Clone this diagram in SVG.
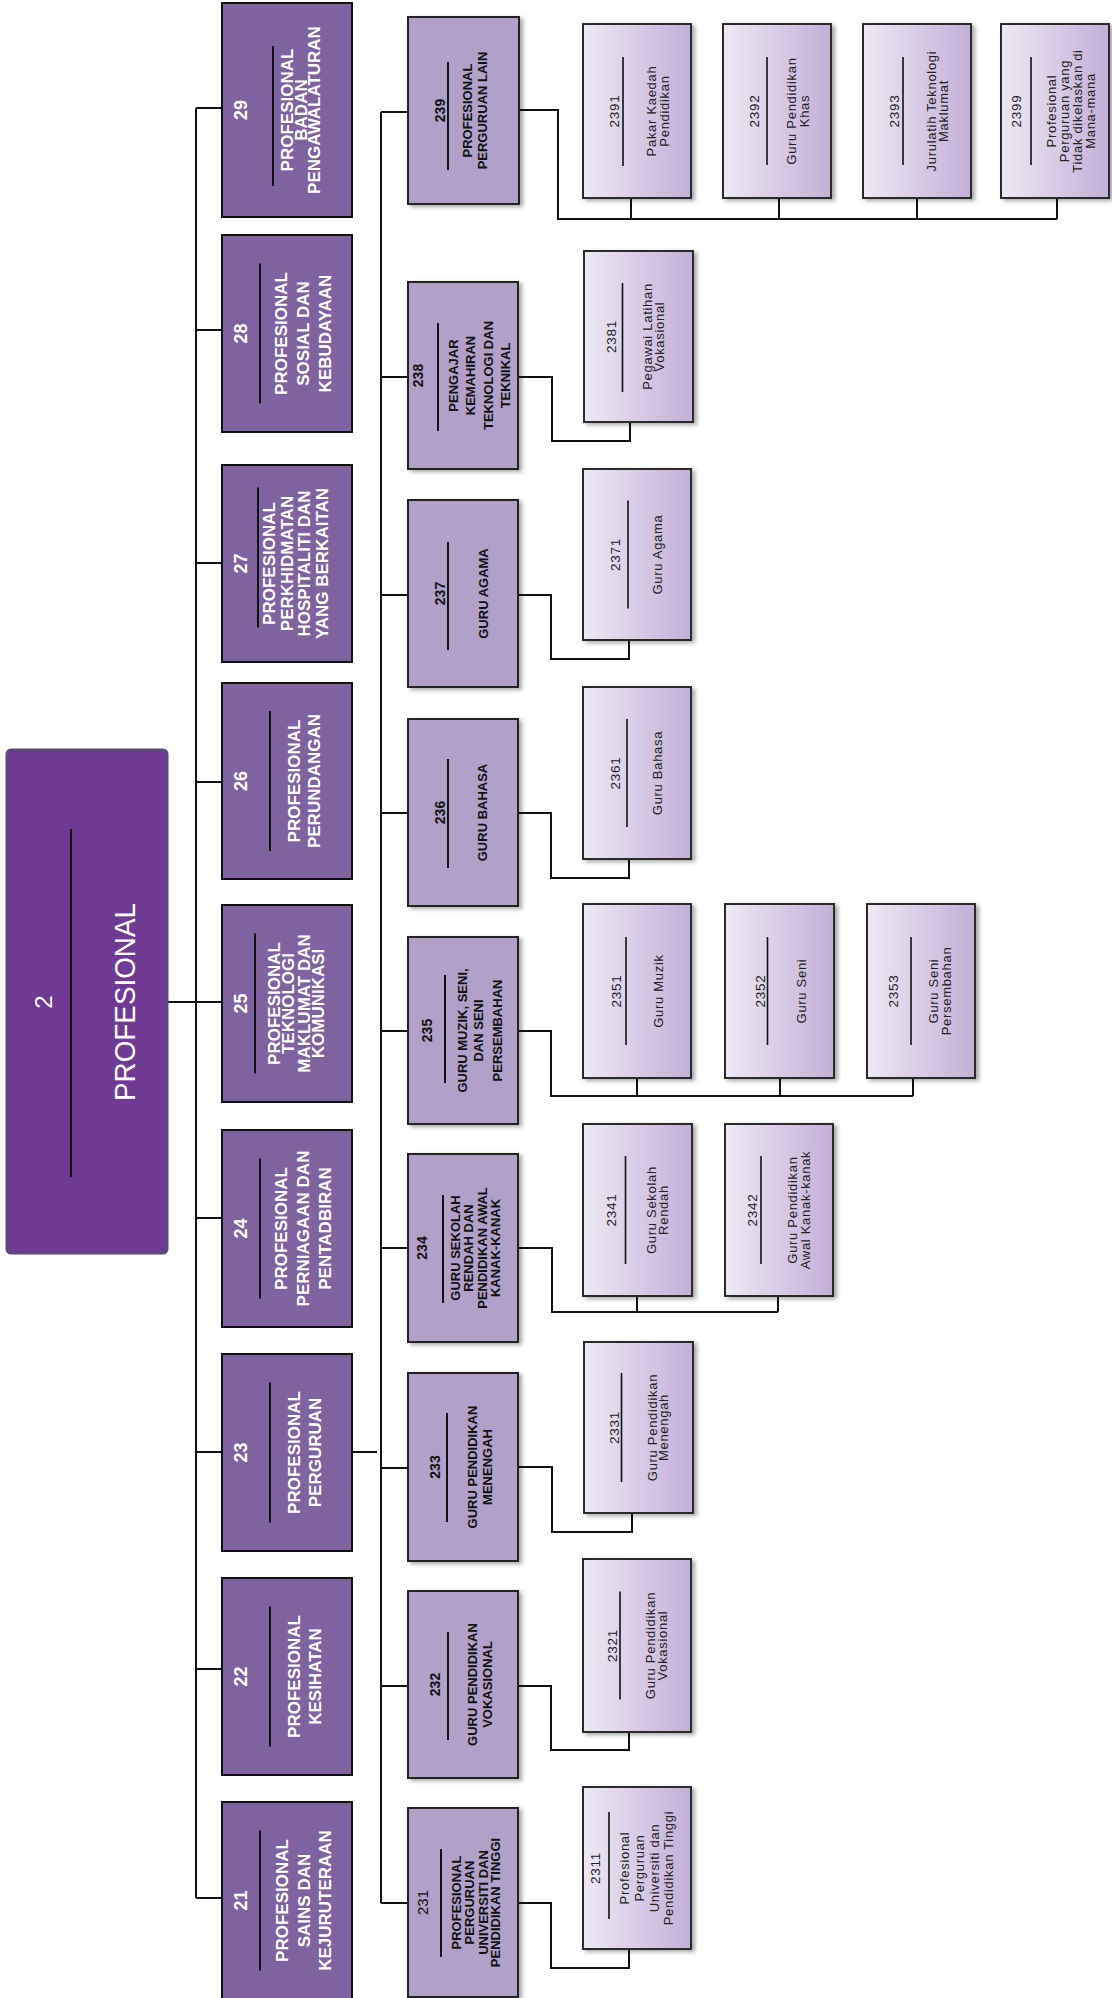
<svg xmlns="http://www.w3.org/2000/svg" width="1112" height="1998" viewBox="0 0 1112 1998">
<style>
text{font-family:"Liberation Sans",Arial,sans-serif;text-anchor:middle}
.main rect{fill:#6f3a93;stroke:#5b4a7d;stroke-width:3}
.main text{fill:#fff}
.l1 rect{fill:#7f63a1;stroke:#111;stroke-width:2}
.l1 text{fill:#fff;font-weight:bold;font-size:17px}
.l1 .num{font-size:18px}
.l2 rect{fill:#b1a0c7;stroke:#222;stroke-width:2;filter:url(#sh)}
.l2 text{fill:#111;font-weight:bold;font-size:13px}
.l2 .num{font-size:14px}
.l2 .num.reg{font-weight:normal;font-size:15px}
.l3 rect{fill:url(#g3);stroke:#2a2a2a;stroke-width:2;filter:url(#sh)}
.l3 text{fill:#222;font-size:13px;letter-spacing:0.7px}
.l3 .num{font-size:13.5px}
.sep{stroke:#111;stroke-width:2}
.l3 .sep{stroke-width:1.6}
#connectors path{fill:none;stroke:#111;stroke-width:2}
</style>
<defs>
<linearGradient id="g3" x1="0" y1="0" x2="1" y2="0">
<stop offset="0" stop-color="#eee9f4"/>
<stop offset="1" stop-color="#c3afd6"/>
</linearGradient>
<filter id="sh" x="-10%" y="-10%" width="130%" height="130%">
<feDropShadow dx="3" dy="2" stdDeviation="2" flood-color="#000" flood-opacity="0.35"/>
</filter>
</defs>
<rect width="1112" height="1998" fill="#fff"/>

<g id="connectors">
<path d="M167,1002 H196"/>
<path d="M196,108 V1898"/>
<path d="M196,108 H222 M196,330 H222 M196,563 H222 M196,782 H222 M196,1002 H222 M196,1218 H222 M196,1452 H222 M196,1669 H222 M196,1898 H222"/>
<path d="M352,1452 H377"/>
<path d="M381,112 V1903"/>
<path d="M381,112 H408 M381,377 H408 M381,595 H408 M381,813 H408 M381,1031 H408 M381,1248 H408 M381,1468 H408 M381,1686 H408 M381,1903 H408"/>
<path d="M519,110 H558 V219 H1057 M631,198 V219 M779,198 V219 M917,198 V219 M1057,198 V219"/>
<path d="M518,377 H552 V441 H630 V422"/>
<path d="M518,595 H551 V659 H629 V640"/>
<path d="M518,813 H551 V878 H629 V859"/>
<path d="M518,1031 H551 V1096 H913 M637,1078 V1096 M780,1078 V1096 M913,1078 V1096"/>
<path d="M518,1248 H552 V1312 H778 M637,1296 V1312 M778,1296 V1312"/>
<path d="M518,1467 H552 V1532 H632 V1513"/>
<path d="M518,1686 H551 V1750 H629 V1732"/>
<path d="M518,1903 H551 V1968 H629 V1949"/>
</g>

<g id="n2" class="main">
<rect x="7" y="750" width="160" height="503" rx="4"/>
<g transform="translate(87,1002) rotate(-90)">
<text y="-35" font-size="24">2</text>
<line class="sep" x1="-175" y1="-16" x2="173" y2="-16"/>
<text y="48" font-size="30" textLength="198" lengthAdjust="spacingAndGlyphs">PROFESIONAL</text>
</g>
</g>

<g id="n29" class="l1">
<rect x="222" y="3" width="130" height="214"/>
<g transform="translate(287,110) rotate(-90)">
<text class="num" y="-40">29</text>
<line class="sep" x1="-76" y1="-14" x2="64" y2="-14"/>
<text><tspan x="0" y="6">PROFESIONAL</tspan><tspan x="0" y="20">BADAN</tspan><tspan x="0" y="33">PENGAWALATURAN</tspan></text>
</g>
</g>

<g id="n28" class="l1">
<rect x="222" y="235" width="130" height="197"/>
<g transform="translate(287,333.5) rotate(-90)">
<text class="num" y="-40">28</text>
<line class="sep" x1="-70" y1="-27" x2="70" y2="-27"/>
<text><tspan x="0" y="0">PROFESIONAL</tspan><tspan x="0" y="22">SOSIAL DAN</tspan><tspan x="0" y="44">KEBUDAYAAN</tspan></text>
</g>
</g>

<g id="n27" class="l1">
<rect x="222" y="465" width="130" height="197"/>
<g transform="translate(287,563.5) rotate(-90)">
<text class="num" y="-40">27</text>
<line class="sep" x1="-64" y1="-29" x2="76" y2="-29"/>
<text><tspan x="0" y="-12">PROFESIONAL</tspan><tspan x="0" y="5.5">PERKHIDMATAN</tspan><tspan x="0" y="23">HOSPITALITI DAN</tspan><tspan x="0" y="40.5">YANG BERKAITAN</tspan></text>
</g>
</g>

<g id="n26" class="l1">
<rect x="222" y="683" width="130" height="196"/>
<g transform="translate(287,781) rotate(-90)">
<text class="num" y="-40">26</text>
<line class="sep" x1="-70" y1="-17" x2="70" y2="-17"/>
<text><tspan x="0" y="13">PROFESIONAL</tspan><tspan x="0" y="33">PERUNDANGAN</tspan></text>
</g>
</g>

<g id="n25" class="l1">
<rect x="222" y="905" width="130" height="197"/>
<g transform="translate(287,1003.5) rotate(-90)">
<text class="num" y="-40">25</text>
<line class="sep" x1="-70" y1="-32" x2="70" y2="-32"/>
<text><tspan x="0" y="-7">PROFESIONAL</tspan><tspan x="0" y="7">TEKNOLOGI</tspan><tspan x="0" y="23">MAKLUMAT DAN</tspan><tspan x="0" y="37">KOMUNIKASI</tspan></text>
</g>
</g>

<g id="n24" class="l1">
<rect x="222" y="1130" width="130" height="197"/>
<g transform="translate(287,1228.5) rotate(-90)">
<text class="num" y="-40">24</text>
<line class="sep" x1="-70" y1="-27" x2="70" y2="-27"/>
<text><tspan x="0" y="0">PROFESIONAL</tspan><tspan x="0" y="22">PERNIAGAAN DAN</tspan><tspan x="0" y="44">PENTADBIRAN</tspan></text>
</g>
</g>

<g id="n23" class="l1">
<rect x="222" y="1354" width="130" height="197"/>
<g transform="translate(287,1452.5) rotate(-90)">
<text class="num" y="-40">23</text>
<line class="sep" x1="-70" y1="-17" x2="70" y2="-17"/>
<text><tspan x="0" y="13">PROFESIONAL</tspan><tspan x="0" y="34">PERGURUAN</tspan></text>
</g>
</g>

<g id="n22" class="l1">
<rect x="222" y="1578" width="130" height="197"/>
<g transform="translate(287,1676.5) rotate(-90)">
<text class="num" y="-40">22</text>
<line class="sep" x1="-70" y1="-17" x2="70" y2="-17"/>
<text><tspan x="0" y="13">PROFESIONAL</tspan><tspan x="0" y="34">KESIHATAN</tspan></text>
</g>
</g>

<g id="n21" class="l1">
<rect x="222" y="1802" width="130" height="197"/>
<g transform="translate(287,1900.5) rotate(-90)">
<text class="num" y="-40">21</text>
<line class="sep" x1="-70" y1="-27" x2="70" y2="-27"/>
<text><tspan x="0" y="1">PROFESIONAL</tspan><tspan x="0" y="23">SAINS DAN</tspan><tspan x="0" y="44">KEJURUTERAAN</tspan></text>
</g>
</g>

<g id="n239" class="l2">
<rect x="408" y="17" width="111" height="187"/>
<g transform="translate(463,110.5) rotate(-90)">
<text class="num" y="-18">239</text>
<line class="sep" x1="-59.5" y1="-15" x2="48.5" y2="-15"/>
<text><tspan x="0" y="9">PROFESIONAL</tspan><tspan x="0" y="24">PERGURUAN LAIN</tspan></text>
</g>
</g>

<g id="n238" class="l2">
<rect x="408" y="282" width="110" height="187"/>
<g transform="translate(463,375.5) rotate(-90)">
<text class="num" y="-40">238</text>
<line class="sep" x1="-55.5" y1="-25" x2="52.5" y2="-25"/>
<text><tspan x="0" y="-5">PENGAJAR</tspan><tspan x="0" y="12">KEMAHIRAN</tspan><tspan x="0" y="30">TEKNOLOGI DAN</tspan><tspan x="0" y="47">TEKNIKAL</tspan></text>
</g>
</g>

<g id="n237" class="l2">
<rect x="408" y="500" width="110" height="187"/>
<g transform="translate(463,593.5) rotate(-90)">
<text class="num" y="-18">237</text>
<line class="sep" x1="-56.5" y1="-15" x2="51.5" y2="-15"/>
<text x="0" y="25">GURU AGAMA</text>
</g>
</g>

<g id="n236" class="l2">
<rect x="408" y="719" width="110" height="187"/>
<g transform="translate(463,812.5) rotate(-90)">
<text class="num" y="-18">236</text>
<line class="sep" x1="-55.5" y1="-15" x2="53.5" y2="-15"/>
<text x="0" y="24">GURU BAHASA</text>
</g>
</g>

<g id="n235" class="l2">
<rect x="408" y="937" width="110" height="187"/>
<g transform="translate(463,1030.5) rotate(-90)">
<text class="num" y="-31">235</text>
<line class="sep" x1="-52.5" y1="-18" x2="55.5" y2="-18"/>
<text><tspan x="0" y="4">GURU MUZIK, SENI,</tspan><tspan x="0" y="20">DAN SENI</tspan><tspan x="0" y="39">PERSEMBAHAN</tspan></text>
</g>
</g>

<g id="n234" class="l2">
<rect x="408" y="1154" width="110" height="188"/>
<g transform="translate(463,1248) rotate(-90)">
<text class="num" y="-36">234</text>
<line class="sep" x1="-55" y1="-20" x2="53" y2="-20"/>
<text><tspan x="0" y="-3">GURU SEKOLAH</tspan><tspan x="0" y="10">RENDAH DAN</tspan><tspan x="0" y="24">PENDIDIKAN AWAL</tspan><tspan x="0" y="37">KANAK-KANAK</tspan></text>
</g>
</g>

<g id="n233" class="l2">
<rect x="408" y="1373" width="110" height="188"/>
<g transform="translate(463,1467) rotate(-90)">
<text class="num" y="-23">233</text>
<line class="sep" x1="-55" y1="-16" x2="54" y2="-16"/>
<text><tspan x="0" y="14">GURU PENDIDIKAN</tspan><tspan x="0" y="29">MENENGAH</tspan></text>
</g>
</g>

<g id="n232" class="l2">
<rect x="408" y="1591" width="110" height="187"/>
<g transform="translate(463,1684.5) rotate(-90)">
<text class="num" y="-23">232</text>
<line class="sep" x1="-55.5" y1="-15" x2="52.5" y2="-15"/>
<text><tspan x="0" y="14">GURU PENDIDIKAN</tspan><tspan x="0" y="29">VOKASIONAL</tspan></text>
</g>
</g>

<g id="n231" class="l2">
<rect x="408" y="1808" width="110" height="189"/>
<g transform="translate(463,1902.5) rotate(-90)">
<text class="num reg" y="-35">231</text>
<line class="sep" x1="-54.5" y1="-22" x2="53.5" y2="-22"/>
<text><tspan x="0" y="-2">PROFESIONAL</tspan><tspan x="0" y="11">PERGURUAN</tspan><tspan x="0" y="25">UNIVERSITI DAN</tspan><tspan x="0" y="37">PENDIDIKAN TINGGI</tspan></text>
</g>
</g>

<g id="n2391" class="l3">
<rect x="583" y="24" width="108" height="174"/>
<g transform="translate(637,111) rotate(-90)">
<text class="num" y="-18">2391</text>
<line class="sep" x1="-55" y1="-14" x2="54" y2="-14"/>
<text><tspan x="0" y="19">Pakar Kaedah</tspan><tspan x="0" y="32">Pendidikan</tspan></text>
</g>
</g>

<g id="n2392" class="l3">
<rect x="723" y="24" width="108" height="174"/>
<g transform="translate(777,111) rotate(-90)">
<text class="num" y="-18">2392</text>
<line class="sep" x1="-54" y1="-10" x2="54" y2="-10"/>
<text><tspan x="0" y="19">Guru Pendidikan</tspan><tspan x="0" y="32">Khas</tspan></text>
</g>
</g>

<g id="n2393" class="l3">
<rect x="863" y="24" width="108" height="174"/>
<g transform="translate(917,111) rotate(-90)">
<text class="num" y="-18">2393</text>
<line class="sep" x1="-54" y1="-14" x2="54" y2="-14"/>
<text><tspan x="0" y="19">Jurulatih Teknologi</tspan><tspan x="0" y="31">Maklumat</tspan></text>
</g>
</g>

<g id="n2399" class="l3">
<rect x="1001" y="24" width="108" height="174"/>
<g transform="translate(1055,111) rotate(-90)">
<text class="num" y="-34">2399</text>
<line class="sep" x1="-54" y1="-24" x2="54" y2="-24"/>
<text><tspan x="0" y="1">Profesional</tspan><tspan x="0" y="14">Perguruan yang</tspan><tspan x="0" y="27">Tidak dikelaskan di</tspan><tspan x="0" y="40">Mana-mana</tspan></text>
</g>
</g>

<g id="n2381" class="l3">
<rect x="584" y="251" width="109" height="171"/>
<g transform="translate(638.5,336.5) rotate(-90)">
<text class="num" y="-23">2381</text>
<line class="sep" x1="-55.5" y1="-16" x2="53.5" y2="-16"/>
<text><tspan x="0" y="13.5">Pegawai Latihan</tspan><tspan x="0" y="25.5">Vokasional</tspan></text>
</g>
</g>

<g id="n2371" class="l3">
<rect x="583" y="469" width="108" height="171"/>
<g transform="translate(637,554.5) rotate(-90)">
<text class="num" y="-17">2371</text>
<line class="sep" x1="-54" y1="-9" x2="54" y2="-9"/>
<text x="0" y="25">Guru Agama</text>
</g>
</g>

<g id="n2361" class="l3">
<rect x="583" y="687" width="108" height="172"/>
<g transform="translate(637,773) rotate(-90)">
<text class="num" y="-17">2361</text>
<line class="sep" x1="-54" y1="-10" x2="54" y2="-10"/>
<text x="0" y="25">Guru Bahasa</text>
</g>
</g>

<g id="n2351" class="l3">
<rect x="583" y="904" width="108" height="174"/>
<g transform="translate(637,991) rotate(-90)">
<text class="num" y="-16">2351</text>
<line class="sep" x1="-54" y1="-11" x2="54" y2="-11"/>
<text x="0" y="26">Guru Muzik</text>
</g>
</g>

<g id="n2352" class="l3">
<rect x="725" y="904" width="109" height="174"/>
<g transform="translate(779.5,991) rotate(-90)">
<text class="num" y="-15">2352</text>
<line class="sep" x1="-54" y1="-12" x2="54" y2="-12"/>
<text x="0" y="26">Guru Seni</text>
</g>
</g>

<g id="n2353" class="l3">
<rect x="867" y="904" width="108" height="174"/>
<g transform="translate(921,991) rotate(-90)">
<text class="num" y="-23">2353</text>
<line class="sep" x1="-54" y1="-10" x2="54" y2="-10"/>
<text><tspan x="0" y="17">Guru Seni</tspan><tspan x="0" y="30">Persembahan</tspan></text>
</g>
</g>

<g id="n2341" class="l3">
<rect x="583" y="1124" width="109" height="172"/>
<g transform="translate(637.5,1210) rotate(-90)">
<text class="num" y="-22">2341</text>
<line class="sep" x1="-54" y1="-12" x2="54" y2="-12"/>
<text><tspan x="0" y="18">Guru Sekolah</tspan><tspan x="0" y="30">Rendah</tspan></text>
</g>
</g>

<g id="n2342" class="l3">
<rect x="725" y="1124" width="108" height="172"/>
<g transform="translate(779,1210) rotate(-90)">
<text class="num" y="-22">2342</text>
<line class="sep" x1="-54" y1="-18" x2="54" y2="-18"/>
<text><tspan x="0" y="18">Guru Pendidikan</tspan><tspan x="0" y="31">Awal Kanak-kanak</tspan></text>
</g>
</g>

<g id="n2331" class="l3">
<rect x="584" y="1342" width="109" height="171"/>
<g transform="translate(638.5,1427.5) rotate(-90)">
<text class="num" y="-20">2331</text>
<line class="sep" x1="-54.5" y1="-17" x2="54.5" y2="-17"/>
<text><tspan x="0" y="18">Guru Pendidikan</tspan><tspan x="0" y="29">Menengah</tspan></text>
</g>
</g>

<g id="n2321" class="l3">
<rect x="583" y="1559" width="108" height="173"/>
<g transform="translate(637,1645.5) rotate(-90)">
<text class="num" y="-20">2321</text>
<line class="sep" x1="-54" y1="-17" x2="54" y2="-17"/>
<text><tspan x="0" y="18">Guru Pendidikan</tspan><tspan x="0" y="30">Vokasional</tspan></text>
</g>
</g>

<g id="n2311" class="l3">
<rect x="583" y="1787" width="108" height="162"/>
<g transform="translate(637,1868) rotate(-90)">
<text class="num" y="-37">2311</text>
<line class="sep" x1="-51" y1="-28" x2="56" y2="-28"/>
<text><tspan x="0" y="-8">Profesional</tspan><tspan x="0" y="7">Perguruan</tspan><tspan x="0" y="22">Universiti dan</tspan><tspan x="0" y="36">Pendidikan Tinggi</tspan></text>
</g>
</g>
</svg>
